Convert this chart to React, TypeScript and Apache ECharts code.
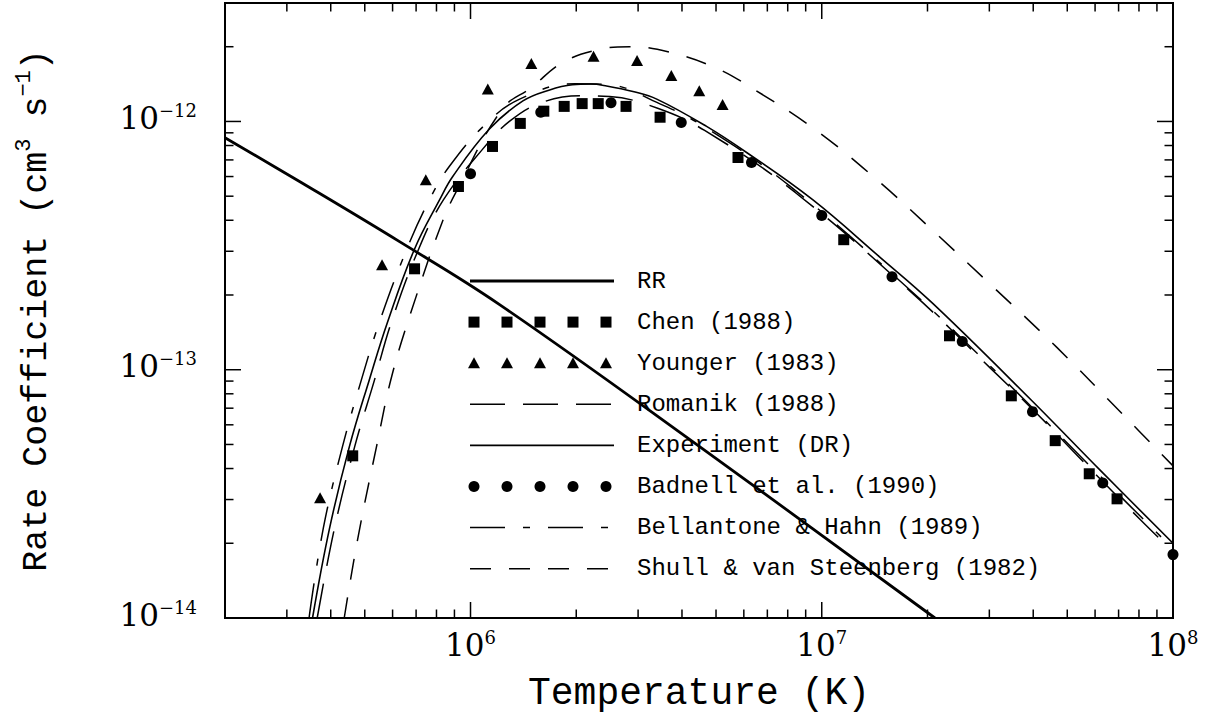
import React, { useEffect, useRef } from 'react';
import * as echarts from 'echarts';

const X_MIN = 2e5;
const X_MAX = 1e8;
const Y_MIN = 1e-14;
const Y_MAX = 3e-12;

// RR (thick solid)
const RR_T = [2e5, 3.26e5, 6.28e5, 1.21e6, 4.49e6, 2.1e7];
const RR_R = [8.6e-13, 5.73e-13, 3.28e-13, 1.83e-13, 4.9e-14, 1.0e-14];

// Experiment (DR) solid
const EXP_T = [3.55e5, 3.97e5, 4.52e5, 5.15e5, 5.8e5, 6.92e5, 8.17e5, 8.9e5, 1.13e6, 1.41e6, 1.68e6, 1.95e6, 2.2e6, 2.44e6, 2.9e6, 3.39e6, 4.7e6, 6.11e6, 9.42e6, 1.46e7, 2.07e7, 3.94e7, 6.19e7, 1e8];
const EXP_R = [1.0e-14, 2.3e-14, 4.9e-14, 9.1e-14, 1.55e-13, 3.05e-13, 4.84e-13, 6.0e-13, 9.3e-13, 1.21e-12, 1.34e-12, 1.405e-12, 1.415e-12, 1.39e-12, 1.32e-12, 1.23e-12, 9.55e-13, 7.5e-13, 4.84e-13, 2.85e-13, 1.85e-13, 7.57e-14, 3.95e-14, 2.0e-14];

// Romanik (1988) long dash
const ROM_T = [3.66e5, 4.1e5, 4.68e5, 5.33e5, 5.95e5, 7.11e5, 8.38e5, 1.08e6, 1.29e6, 1.59e6, 2.05e6, 2.49e6, 3.41e6, 4.64e6, 8.37e6, 1.82e7, 3.01e7, 4.1e7, 5.61e7, 8.05e7, 1e8];
const ROM_R = [1.0e-14, 2.3e-14, 4.9e-14, 9.1e-14, 1.55e-13, 3.05e-13, 4.84e-13, 7.7e-13, 1.0e-12, 1.19e-12, 1.27e-12, 1.26e-12, 1.13e-12, 9.2e-13, 5.2e-13, 2.02e-13, 1.02e-13, 6.65e-14, 4.2e-14, 2.5e-14, 1.85e-14];

// Bellantone & Hahn (1989) dash-dot
const BH_T = [3.47e5, 3.81e5, 4.32e5, 4.89e5, 5.5e5, 6.58e5, 7.64e5, 8.71e5, 1.1e6, 1.38e6, 1.98e6, 2.44e6, 3.45e6, 4.64e6, 8.1e6, 1.78e7, 3.21e7, 5.8e7, 8.6e7, 1e8];
const BH_R = [1.0e-14, 2.3e-14, 4.9e-14, 9.1e-14, 1.55e-13, 3.05e-13, 4.84e-13, 6.6e-13, 9.7e-13, 1.23e-12, 1.42e-12, 1.41e-12, 1.18e-12, 9.5e-13, 5.5e-13, 2.1e-13, 9.5e-14, 4.1e-14, 2.35e-14, 1.9e-14];

// Shull & van Steenberg (1982) dashed
const SH_T = [4.37e5, 4.77e5, 5.4e5, 6.0e5, 7.0e5, 8.3e5, 9.1e5, 1.23e6, 1.49e6, 1.83e6, 2.33e6, 2.84e6, 3.69e6, 4.96e6, 6.24e6, 9.55e6, 1.44e7, 2.1e7, 3.07e7, 4.67e7, 7.2e7, 1e8];
const SH_R = [1.0e-14, 2.07e-14, 4.9e-14, 9.7e-14, 1.97e-13, 3.92e-13, 5.2e-13, 1.12e-12, 1.37e-12, 1.73e-12, 1.95e-12, 2.0e-12, 1.9e-12, 1.65e-12, 1.38e-12, 9.3e-13, 5.8e-13, 3.57e-13, 2.16e-13, 1.23e-13, 6.6e-14, 4.1e-14];

// Chen (1988) squares
const CHEN_T = [4.62e5, 6.93e5, 9.24e5, 1.155e6, 1.386e6, 1.617e6, 1.848e6, 2.079e6, 2.31e6, 2.772e6, 3.465e6, 5.775e6, 1.155e7, 2.31e7, 3.465e7, 4.62e7, 5.775e7, 6.93e7];
const CHEN_R = [4.5e-14, 2.55e-13, 5.47e-13, 7.93e-13, 9.82e-13, 1.10e-12, 1.15e-12, 1.18e-12, 1.18e-12, 1.15e-12, 1.04e-12, 7.16e-13, 3.34e-13, 1.37e-13, 7.85e-14, 5.18e-14, 3.81e-14, 3.02e-14];

// Younger (1983) triangles
const YOU_T = [3.73e5, 5.6e5, 7.46e5, 1.12e6, 1.49e6, 2.24e6, 2.98e6, 3.73e6, 4.48e6, 5.22e6];
const YOU_R = [3.05e-14, 2.65e-13, 5.83e-13, 1.35e-12, 1.71e-12, 1.83e-12, 1.76e-12, 1.53e-12, 1.33e-12, 1.17e-12];

// Badnell et al. (1990) circles
const BAD_T = [1e6, 1.585e6, 2.512e6, 3.981e6, 6.31e6, 1e7, 1.585e7, 2.512e7, 3.981e7, 6.31e7, 1e8];
const BAD_R = [6.16e-13, 1.09e-12, 1.19e-12, 9.9e-13, 6.84e-13, 4.18e-13, 2.37e-13, 1.30e-13, 6.78e-14, 3.50e-14, 1.80e-14];

const LEGEND_LABELS = [
  'RR',
  'Chen (1988)',
  'Younger (1983)',
  'Romanik (1988)',
  'Experiment (DR)',
  'Badnell et al. (1990)',
  'Bellantone & Hahn (1989)',
  'Shull & van Steenberg (1982)',
];

const X_DECADES = [5, 6, 7];
const Y_DECADES = [-14, -13, -12];
const MINOR_MULTS = [1, 2, 3, 4, 5, 6, 7, 8, 9];

const X_TITLE = 'Temperature (K)';

const DASH_ROM = [35, 18];
const DASH_BH = [35, 18, 7, 18];
const DASH_SH = [21, 18];

const SERIF = 'DejaVu Serif';
const MONO = 'Liberation Mono';

const pairs = (t: number[], r: number[]) => t.map((v, i) => [v, r[i]]);

function buildXTicks() {
  const out: number[][] = [];
  X_DECADES.forEach((d) => {
    MINOR_MULTS.forEach((m) => {
      const v = m * Math.pow(10, d);
      if (v > X_MIN * 1.001 && v < X_MAX * 0.999) out.push([v, Y_MIN, m === 1 ? 1 : 0]);
    });
  });
  return out;
}

function buildYTicks() {
  const out: number[][] = [];
  Y_DECADES.forEach((d) => {
    MINOR_MULTS.forEach((m) => {
      const v = m * Math.pow(10, d);
      if (v > Y_MIN * 1.001 && v < Y_MAX * 0.999) out.push([X_MIN, v, m === 1 ? 1 : 0]);
    });
  });
  return out;
}

const MAJOR_LEN = 16;
const MINOR_LEN = 8.5;

function powLabel(v: number) {
  const lg = Math.log10(v);
  const e = Math.round(lg);
  if (Math.abs(lg - e) > 1e-6) return '';
  const es = e < 0 ? '\u2212' + Math.abs(e) : String(e);
  return '{b|10}{s|' + es + '}';
}

const labelRich = {
  b: {
    fontFamily: SERIF,
    fontSize: 31,
    lineHeight: 32,
    padding: [12, 0, 0, 0],
    verticalAlign: 'bottom',
    color: '#000',
  },
  s: {
    fontFamily: SERIF,
    fontSize: 18,
    lineHeight: 19,
    verticalAlign: 'top',
    color: '#000',
  },
};

function buildLegend() {
  const els: any[] = [];
  const y0 = 281;
  const dy = 41.1;
  const xs = 470;
  const xe = 614;
  const cxs = [474, 507, 540, 573, 606];
  const textX = 637;
  LEGEND_LABELS.forEach((label, i) => {
    const cy = y0 + i * dy;
    if (i === 0) {
      els.push({ type: 'line', shape: { x1: xs, y1: cy, x2: xe, y2: cy }, style: { stroke: '#000', lineWidth: 2.8 } });
    } else if (i === 1) {
      cxs.forEach((cx) => els.push({ type: 'rect', shape: { x: cx - 5.5, y: cy - 5.5, width: 11, height: 11 }, style: { fill: '#000' } }));
    } else if (i === 2) {
      cxs.forEach((cx) => els.push({ type: 'polygon', shape: { points: [[cx, cy - 6], [cx - 6, cy + 5], [cx + 6, cy + 5]] }, style: { fill: '#000' } }));
    } else if (i === 3) {
      els.push({ type: 'line', shape: { x1: xs, y1: cy, x2: xe, y2: cy }, style: { stroke: '#000', lineWidth: 1.5, lineDash: DASH_ROM } });
    } else if (i === 4) {
      els.push({ type: 'line', shape: { x1: xs, y1: cy, x2: xe, y2: cy }, style: { stroke: '#000', lineWidth: 1.6 } });
    } else if (i === 5) {
      cxs.forEach((cx) => els.push({ type: 'circle', shape: { cx, cy, r: 5.5 }, style: { fill: '#000' } }));
    } else if (i === 6) {
      els.push({ type: 'line', shape: { x1: xs, y1: cy, x2: xe, y2: cy }, style: { stroke: '#000', lineWidth: 1.5, lineDash: DASH_BH } });
    } else {
      els.push({ type: 'line', shape: { x1: xs, y1: cy, x2: xe, y2: cy }, style: { stroke: '#000', lineWidth: 1.5, lineDash: DASH_SH } });
    }
    els.push({
      type: 'text',
      x: textX,
      y: cy,
      style: { text: label, fontFamily: MONO, fontSize: 24, fill: '#000', verticalAlign: 'middle', align: 'left' },
    });
  });
  return els;
}

function lineSeries(name: string, t: number[], r: number[], width: number, type: any) {
  return {
    name,
    type: 'line',
    data: pairs(t, r),
    showSymbol: false,
    symbol: 'none',
    smooth: 0.4,
    lineStyle: { color: '#000', width, type, opacity: 1 },
    z: 3,
  };
}

function scatterSeries(name: string, t: number[], r: number[], symbol: string, size: any) {
  return {
    name,
    type: 'scatter',
    data: pairs(t, r),
    symbol,
    symbolSize: size,
    itemStyle: { color: '#000', opacity: 1 },
    z: 4,
  };
}

export default function App() {
  const ref = useRef<HTMLDivElement>(null);
  useEffect(() => {
    if (!ref.current) return;
    const chart = echarts.init(ref.current, null, { renderer: 'svg' });
    const option: any = {
      animation: false,
      backgroundColor: '#fff',
      grid: {
        left: 225,
        top: 3,
        right: 35,
        bottom: 99,
        show: true,
        borderColor: '#000',
        borderWidth: 2,
        backgroundColor: 'transparent',
      },
      xAxis: {
        type: 'log',
        logBase: 10,
        min: X_MIN,
        max: X_MAX,
        axisLine: { show: false },
        axisTick: { show: false },
        splitLine: { show: false },
        axisLabel: {
          margin: 10,
          formatter: (v: number) => powLabel(v),
          rich: labelRich,
          showMinLabel: true,
          showMaxLabel: true,
        },
        name: X_TITLE,
        nameLocation: 'middle',
        nameGap: 56,
        nameTextStyle: { fontFamily: MONO, fontSize: 38, color: '#000' },
      },
      yAxis: {
        type: 'log',
        logBase: 10,
        min: Y_MIN,
        max: Y_MAX,
        axisLine: { show: false },
        axisTick: { show: false },
        splitLine: { show: false },
        axisLabel: {
          margin: 28,
          padding: [0, 0, 8, 0],
          formatter: (v: number) => powLabel(v),
          rich: labelRich,
        },
        name: 'Rate Coefficient (cm{s|3} s{s|\u22121})',
        nameLocation: 'middle',
        nameGap: 164,
        nameTextStyle: {
          fontFamily: MONO,
          fontSize: 35,
          lineHeight: 48,
          color: '#000',
          rich: {
            s: { fontFamily: MONO, fontSize: 22, lineHeight: 22, verticalAlign: 'top', color: '#000' },
          },
        },
      },
      graphic: buildLegend(),
      series: [
        lineSeries('RR', RR_T, RR_R, 2.8, 'solid'),
        scatterSeries('Chen (1988)', CHEN_T, CHEN_R, 'rect', 11),
        scatterSeries('Younger (1983)', YOU_T, YOU_R, 'triangle', [12, 11]),
        lineSeries('Romanik (1988)', ROM_T, ROM_R, 1.5, DASH_ROM),
        lineSeries('Experiment (DR)', EXP_T, EXP_R, 1.6, 'solid'),
        scatterSeries('Badnell et al. (1990)', BAD_T, BAD_R, 'circle', 11),
        lineSeries('Bellantone & Hahn (1989)', BH_T, BH_R, 1.5, DASH_BH),
        lineSeries('Shull & van Steenberg (1982)', SH_T, SH_R, 1.5, DASH_SH),
        {
          name: 'xticks',
          type: 'custom',
          coordinateSystem: 'cartesian2d',
          silent: true,
          clip: false,
          encode: { x: 0, y: 1 },
          data: buildXTicks(),
          z: 10,
          renderItem: (params: any, api: any) => {
            const v = api.value(0);
            const len = api.value(2) ? MAJOR_LEN : MINOR_LEN;
            const pb = api.coord([v, Y_MIN]);
            const pt = api.coord([v, Y_MAX]);
            return {
              type: 'group',
              children: [
                { type: 'line', shape: { x1: pb[0], y1: pb[1], x2: pb[0], y2: pb[1] - len }, style: { stroke: '#000', lineWidth: 1.5 } },
                { type: 'line', shape: { x1: pt[0], y1: pt[1], x2: pt[0], y2: pt[1] + len }, style: { stroke: '#000', lineWidth: 1.5 } },
              ],
            };
          },
        },
        {
          name: 'yticks',
          type: 'custom',
          coordinateSystem: 'cartesian2d',
          silent: true,
          clip: false,
          encode: { x: 0, y: 1 },
          data: buildYTicks(),
          z: 10,
          renderItem: (params: any, api: any) => {
            const v = api.value(1);
            const len = api.value(2) ? MAJOR_LEN : MINOR_LEN;
            const pl = api.coord([X_MIN, v]);
            const pr = api.coord([X_MAX, v]);
            return {
              type: 'group',
              children: [
                { type: 'line', shape: { x1: pl[0], y1: pl[1], x2: pl[0] + len, y2: pl[1] }, style: { stroke: '#000', lineWidth: 1.5 } },
                { type: 'line', shape: { x1: pr[0], y1: pr[1], x2: pr[0] - len, y2: pr[1] }, style: { stroke: '#000', lineWidth: 1.5 } },
              ],
            };
          },
        },
      ],
    };
    chart.setOption(option);
    return () => chart.dispose();
  }, []);
  return (
    <div
      ref={ref}
      style={{ position: 'absolute', left: 0, top: 0, width: 1208, height: 717, background: '#fff' }}
    />
  );
}
